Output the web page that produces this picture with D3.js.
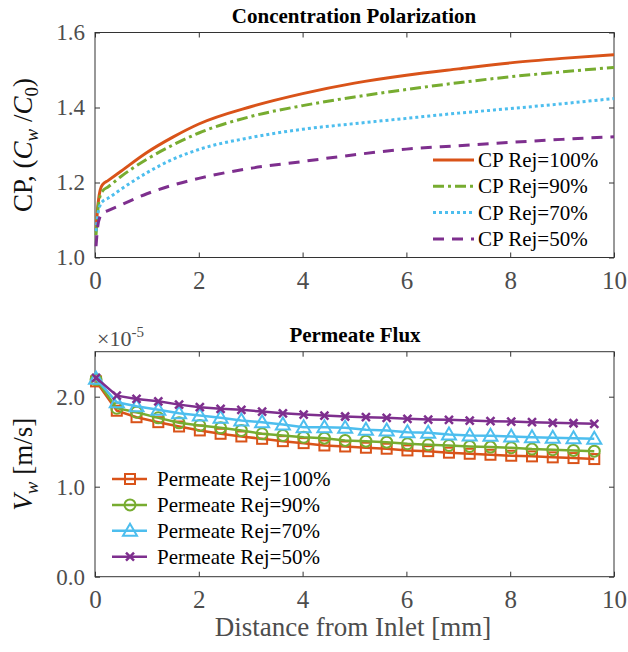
<!DOCTYPE html>
<html>
<head>
<meta charset="utf-8">
<script src="https://cdn.jsdelivr.net/npm/d3@7"></script>
<style>
  body { margin: 0; background: #fff; }
  svg { display: block; }
  text { font-family: "Liberation Serif", "Times New Roman", serif; }
  .tick text { fill: #4d4d4d; }
</style>
</head>
<body>
<svg id="chart" width="628" height="652"></svg>
<script>
// ---- concentration polarization (top) ----
const cpX = [0.02, 0.05, 0.1, 0.15, 0.25, 0.5, 1, 1.5, 2, 3, 4, 5, 6, 7, 8, 9, 10]
const cp100 = [1.07, 1.13, 1.18, 1.195, 1.205, 1.23, 1.28, 1.321, 1.356, 1.402, 1.437, 1.465, 1.486, 1.503, 1.519, 1.531, 1.541]
const cp90 = [1.06, 1.12, 1.165, 1.178, 1.188, 1.216, 1.262, 1.3, 1.332, 1.376, 1.405, 1.428, 1.448, 1.466, 1.482, 1.495, 1.507]
const cp70 = [1.07, 1.11, 1.14, 1.15, 1.158, 1.182, 1.226, 1.262, 1.288, 1.32, 1.342, 1.357, 1.371, 1.385, 1.397, 1.41, 1.424]
const cp50 = [1.03, 1.08, 1.11, 1.118, 1.125, 1.14, 1.17, 1.193, 1.211, 1.238, 1.256, 1.274, 1.289, 1.298, 1.307, 1.315, 1.322]
const cpNames = ['CP Rej=100%', 'CP Rej=90%', 'CP Rej=70%', 'CP Rej=50%']
const cpTicksY = [1.0, 1.2, 1.4, 1.6]

// ---- permeate flux (bottom), values x 1e-5 m/s ----
const fluxX = [0.02, 0.42, 0.8, 1.22, 1.62, 2.02, 2.42, 2.82, 3.22, 3.62, 4.02, 4.42, 4.82, 5.22, 5.62, 6.02, 6.42, 6.82, 7.22, 7.62, 8.02, 8.42, 8.82, 9.22, 9.62]
const flux100 = [2.17, 1.844, 1.772, 1.717, 1.669, 1.625, 1.588, 1.558, 1.532, 1.506, 1.484, 1.458, 1.447, 1.433, 1.422, 1.403, 1.395, 1.378, 1.366, 1.355, 1.344, 1.337, 1.326, 1.318, 1.307]
const flux90 = [2.19, 1.872, 1.827, 1.765, 1.71, 1.68, 1.654, 1.625, 1.588, 1.569, 1.55, 1.539, 1.514, 1.506, 1.495, 1.477, 1.466, 1.458, 1.447, 1.44, 1.433, 1.418, 1.411, 1.403, 1.395]
const flux70 = [2.2, 1.938, 1.894, 1.854, 1.816, 1.791, 1.765, 1.735, 1.717, 1.691, 1.661, 1.661, 1.654, 1.632, 1.625, 1.606, 1.599, 1.58, 1.569, 1.566, 1.558, 1.55, 1.543, 1.539, 1.532]
const flux50 = [2.21, 2.012, 1.975, 1.949, 1.912, 1.883, 1.865, 1.854, 1.835, 1.816, 1.802, 1.791, 1.78, 1.772, 1.765, 1.754, 1.746, 1.743, 1.735, 1.728, 1.724, 1.717, 1.71, 1.705, 1.699]
const fluxNames = ['Permeate Rej=100%', 'Permeate Rej=90%', 'Permeate Rej=70%', 'Permeate Rej=50%']
const fluxTicksY = [0, 1, 2]

const xTicks = [0, 2, 4, 6, 8, 10]
const colors = ['#D95319', '#77AC30', '#4DBEEE', '#7E2F8E']

const svg = d3.select('#chart')
const left = 95, right = 614
const axisCol = '#333'
const serif = '"Liberation Serif", "Times New Roman", serif'

const x = d3.scaleLinear().domain([0, 10]).range([left, right])

function drawBox(top, bottom, y, yTicks, yFmt) {
  const g = svg.append('g')
  g.append('g').attr('transform', `translate(0,${bottom})`)
    .call(d3.axisBottom(x).tickValues(xTicks).tickSizeInner(-5).tickSizeOuter(0))
    .call(a => a.selectAll('text').attr('font-size', 25).attr('dy', null).attr('y', 31))
  g.append('g').attr('transform', `translate(0,${top})`)
    .call(d3.axisTop(x).tickValues(xTicks).tickSizeInner(-5).tickSizeOuter(0).tickFormat(''))
  g.append('g').attr('transform', `translate(${left},0)`)
    .call(d3.axisLeft(y).tickValues(yTicks).tickSizeInner(-5).tickSizeOuter(0).tickPadding(10).tickFormat(yFmt))
    .call(a => a.selectAll('text').attr('font-size', 23))
  g.append('g').attr('transform', `translate(${right},0)`)
    .call(d3.axisRight(y).tickValues(yTicks).tickSizeInner(-5).tickSizeOuter(0).tickFormat(''))
  g.selectAll('g').attr('font-family', serif)
  g.selectAll('text').style('font-family', serif)
  g.selectAll('.domain').remove()
  g.selectAll('.tick line').attr('stroke', axisCol)
  g.append('rect').attr('x', left).attr('y', top).attr('width', right - left).attr('height', bottom - top)
    .attr('fill', 'none').attr('stroke', axisCol).attr('stroke-width', 1)
}

// ---------- top panel ----------
const top1 = 32.5, bot1 = 257.5
const y1 = d3.scaleLinear().domain([1.0, 1.6]).range([bot1, top1])
drawBox(top1, bot1, y1, cpTicksY, d3.format('.1f'))

const cpSeries = [cp100, cp90, cp70, cp50]
const dashes = [null, '11,4,3,4', '3,3', '11,8']
const cpLine = d3.line().x((d, i) => x(cpX[i])).y(d => y1(d)).curve(d3.curveMonotoneX)
cpSeries.forEach((s, k) => {
  svg.append('path').attr('d', cpLine(s)).attr('fill', 'none')
    .attr('stroke', colors[k]).attr('stroke-width', 3)
    .attr('stroke-dasharray', dashes[k])
})

svg.append('text').attr('x', 354).attr('y', 23).attr('text-anchor', 'middle')
  .attr('font-size', 21).attr('font-weight', 'bold').text('Concentration Polarization')

const ylab1 = svg.append('text').attr('transform', `translate(32,${(top1 + bot1) / 2}) rotate(-90)`)
  .attr('text-anchor', 'middle').attr('font-size', 27).attr('fill', '#111')
ylab1.append('tspan').text('CP, (')
ylab1.append('tspan').attr('font-style', 'italic').text('C')
ylab1.append('tspan').attr('font-style', 'italic').attr('font-size', 19).attr('dy', 6).text('w')
ylab1.append('tspan').attr('dy', -6).text(' /')
ylab1.append('tspan').attr('font-style', 'italic').text('C')
ylab1.append('tspan').attr('font-size', 19).attr('dy', 6).text('0')
ylab1.append('tspan').attr('dy', -6).text(')')

const leg1 = svg.append('g')
cpNames.forEach((n, k) => {
  const yy = 160 + k * 26.3
  leg1.append('line').attr('x1', 433).attr('x2', 474).attr('y1', yy).attr('y2', yy)
    .attr('stroke', colors[k]).attr('stroke-width', 3).attr('stroke-dasharray', dashes[k])
  leg1.append('text').attr('x', 478).attr('y', yy + 7).attr('font-size', 21).text(n)
})

// ---------- bottom panel ----------
const top2 = 351.7, bot2 = 576.7
const y2 = d3.scaleLinear().domain([0, 2.5]).range([bot2, top2])
drawBox(top2, bot2, y2, fluxTicksY, d3.format('.1f'))

const fluxSeries = [flux100, flux90, flux70, flux50]
const fluxLine = d3.line().x((d, i) => x(fluxX[i])).y(d => y2(d))

function marker(g, k, cx, cy) {
  const c = colors[k]
  if (k === 0) g.append('rect').attr('x', cx - 5).attr('y', cy - 5).attr('width', 10).attr('height', 10)
    .attr('fill', 'none').attr('stroke', c).attr('stroke-width', 2)
  else if (k === 1) g.append('circle').attr('cx', cx).attr('cy', cy).attr('r', 5.5)
    .attr('fill', 'none').attr('stroke', c).attr('stroke-width', 2)
  else if (k === 2) g.append('path').attr('d', `M${cx},${cy - 7}L${cx + 7},${cy + 5}L${cx - 7},${cy + 5}Z`)
    .attr('fill', 'none').attr('stroke', c).attr('stroke-width', 2)
  else g.append('path').attr('d', `M${cx - 4},${cy - 4}L${cx + 4},${cy + 4}M${cx - 4},${cy + 4}L${cx + 4},${cy - 4}`)
    .attr('fill', 'none').attr('stroke', c).attr('stroke-width', 2.5)
}

fluxSeries.forEach((s, k) => {
  const g = svg.append('g')
  g.append('path').attr('d', fluxLine(s)).attr('fill', 'none')
    .attr('stroke', colors[k]).attr('stroke-width', 2.5)
  s.forEach((v, i) => marker(g, k, x(fluxX[i]), y2(v)))
})

svg.append('text').attr('x', 355).attr('y', 342).attr('text-anchor', 'middle')
  .attr('font-size', 21).attr('font-weight', 'bold').text('Permeate Flux')

const exp = svg.append('text').attr('x', 97).attr('y', 346).attr('font-size', 22).attr('fill', '#4d4d4d')
exp.append('tspan').text('\u00d710')
exp.append('tspan').attr('font-size', 15).attr('dy', -9).text('-5')

const ylab2 = svg.append('text').attr('transform', `translate(32,${(top2 + bot2) / 2}) rotate(-90)`)
  .attr('text-anchor', 'middle').attr('font-size', 27).attr('fill', '#111')
ylab2.append('tspan').attr('font-style', 'italic').text('V')
ylab2.append('tspan').attr('font-style', 'italic').attr('font-size', 19).attr('dy', 6).text('w')
ylab2.append('tspan').attr('dy', -6).text(' [m/s]')

const leg2 = svg.append('g')
fluxNames.forEach((n, k) => {
  const yy = 479 + k * 25.9
  leg2.append('line').attr('x1', 112).attr('x2', 147).attr('y1', yy).attr('y2', yy)
    .attr('stroke', colors[k]).attr('stroke-width', 2.5)
  marker(leg2, k, 130, yy)
  leg2.append('text').attr('x', 157).attr('y', yy + 7).attr('font-size', 21).text(n)
})

svg.append('text').attr('x', 353).attr('y', 636).attr('text-anchor', 'middle')
  .attr('font-size', 27).attr('fill', '#4d4d4d').text('Distance from Inlet [mm]')
</script>
</body>
</html>
